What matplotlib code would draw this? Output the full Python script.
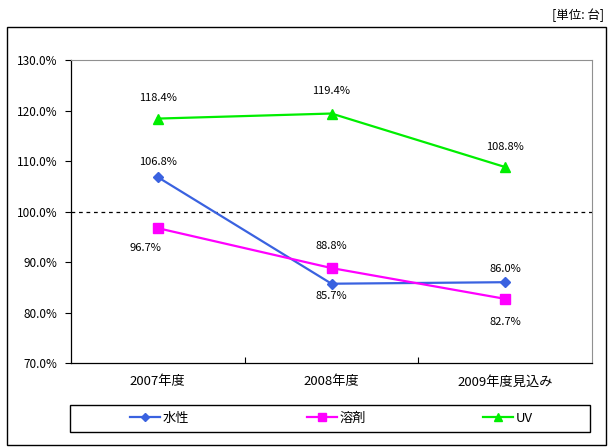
import matplotlib
matplotlib.use("Agg")
import matplotlib.pyplot as plt
from matplotlib.patches import Rectangle

plt.rcParams["font.family"] = ["Noto Sans CJK JP", "DejaVu Sans"]
plt.rcParams["font.size"] = 8.5

categories = ["2007年度", "2008年度", "2009年度見込み"]
series_names = ["水性", "溶剤", "UV"]
water = [106.8, 85.7, 86.0]
solvent = [96.7, 88.8, 82.7]
uv = [118.4, 119.4, 108.8]
y_ticks = [70, 80, 90, 100, 110, 120, 130]

W, H = 613, 448
fig = plt.figure(figsize=(W / 100, H / 100), dpi=100)
fig.patch.set_facecolor("white")


def fx(px):
    return px / W


def fy(py):
    return 1 - py / H


ax = fig.add_axes([fx(71), fy(363), fx(592) - fx(71), fy(60) - fy(363)])

styles = [
    dict(color="#3A62E0", marker="D", ms=5.5),
    dict(color="#FF00FF", marker="s", ms=7),
    dict(color="#00EE00", marker="^", ms=7.5),
]
# label offsets in pixels (dx, dy) for each point
offsets = [
    [(0, 15), (0, -12), (0, 13)],
    [(-12, -20), (0, 22), (0, -23)],
    [(0, 21), (0, 23), (0, 20)],
]

x = list(range(len(categories)))
lines = []
for name, vals, st, offs in zip(series_names, [water, solvent, uv], styles, offsets):
    (ln,) = ax.plot(x, vals, color=st["color"], lw=1.6, marker=st["marker"],
                    ms=st["ms"], mfc=st["color"], mec=st["color"], label=name, zorder=3)
    lines.append(ln)
    for xi, v, (dx, dy) in zip(x, vals, offs):
        ax.annotate(f"{v:.1f}%", (xi, v), xytext=(dx, dy), textcoords="offset pixels",
                    ha="center", va="center", fontsize=8)

ax.axhline(100, color="black", lw=0.9, ls=(0, (3, 3)), zorder=2)

ax.set_xlim(-0.5, 2.5)
ax.set_ylim(70, 130)
ax.set_yticks(y_ticks)
ax.set_yticklabels([f"{t:.1f}%" for t in y_ticks])
ax.set_xticks([0.5, 1.5])
ax.set_xticklabels([])
ax.set_xticks(x, minor=True)
ax.set_xticklabels(categories, minor=True, fontsize=9.5)
ax.tick_params(axis="x", which="major", direction="in", length=4, width=0.8)
ax.tick_params(axis="x", which="minor", length=0, pad=9)
ax.tick_params(axis="y", direction="out", length=4, width=0.8, pad=6)

for side in ["top", "right"]:
    ax.spines[side].set_color("#909090")
    ax.spines[side].set_linewidth(0.8)
for side in ["left", "bottom"]:
    ax.spines[side].set_color("black")
    ax.spines[side].set_linewidth(0.9)

# outer frame and unit text
fig.add_artist(Rectangle((fx(7), fy(445)), fx(606) - fx(7), fy(27) - fy(445),
                         transform=fig.transFigure, fill=False, ec="black", lw=1))
fig.text(fx(604), fy(15), "[単位: 台]", ha="right", va="center", fontsize=9)

# legend box with three evenly spaced entries
fig.add_artist(Rectangle((fx(70), fy(432)), fx(590) - fx(70), fy(405) - fy(432),
                         transform=fig.transFigure, fill=False, ec="black", lw=1))
for ln, lx in zip(lines, [130, 307, 483]):
    fig.legend(handles=[ln], loc="center left", bbox_to_anchor=(fx(lx), fy(418)),
               frameon=False, handlelength=2.3, handletextpad=0.2,
               borderpad=0, borderaxespad=0, markerscale=0.8, fontsize=9.5)

fig.savefig("out.png", dpi=100, facecolor="white")
